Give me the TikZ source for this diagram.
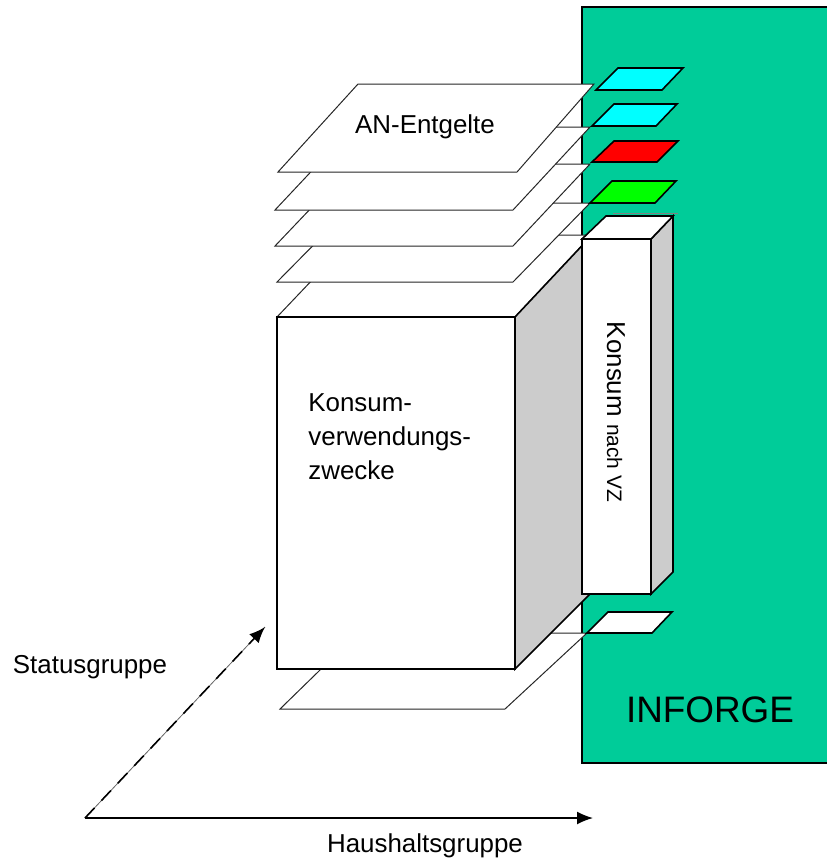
\documentclass[tikz,border=0pt]{standalone}
\usepackage{fontspec}
\setmainfont{Liberation Sans}
\usetikzlibrary{arrows.meta}
\definecolor{inforge}{RGB}{0,204,153}
\definecolor{sidegray}{RGB}{204,204,204}
\definecolor{tagcyan}{RGB}{0,255,255}
\definecolor{tagred}{RGB}{255,0,0}
\definecolor{taggreen}{RGB}{0,255,0}
\tikzset{
  plane/.style={draw=black!85,line width=0.5pt,fill=white},
  solidbox/.style={draw=black,line width=0.8pt},
  tag/.style={draw=black,line width=0.8pt},
  axis/.style={line width=0.8pt,-{Latex[length=8pt,width=6.5pt]}},
  lbl/.style={inner sep=0pt,font=\fontsize{13}{17.25}\selectfont}
}
\begin{document}
\begin{tikzpicture}[x=0.5bp,y=-0.5bp]
  \useasboundingbox (0,0) rectangle (827,864);
  % INFORGE block
  \fill [inforge] (582,7) rectangle (840,763);
  \draw [line width=1pt] (840,7) -- (582,7) -- (582,763) -- (840,763);
  \node [lbl,font=\fontsize{18.5}{22}\selectfont,anchor=base] (inforge) at (710,722) {INFORGE};
  % bottom plane
  \draw [plane] (280,709) -- (505,709) -- (587,633) -- (358,633) -- cycle;
  % cube
  \draw [plane] (277,317) -- (515,317) -- (592,235) -- (355,235) -- cycle;
  \draw [solidbox,fill=sidegray] (515,317) -- (592,235) -- (592,592) -- (515,669) -- cycle;
  \draw [solidbox,fill=white] (277,317) rectangle (515,669);
  \node [lbl,align=left,anchor=north west] (zwecke) at (308,393) {Konsum-\\verwendungs-\\zwecke};
  % stacked planes
  \draw [plane] (277,282) -- (513,282) -- (590,203) -- (355,203) -- cycle;
  \draw [plane] (275,246) -- (513,246) -- (590,164) -- (353,164) -- cycle;
  \draw [plane] (275,210) -- (513,210) -- (590,127) -- (353,127) -- cycle;
  \draw [plane] (278,172) -- (517,172) -- (594,84) -- (358,84) -- cycle;
  \node [lbl,anchor=base] (entgelte) at (425,133) {AN-Entgelte};
  % tags on the INFORGE block
  \draw [tag,fill=tagcyan] (596,90) -- (662,90) -- (683,68) -- (618,68) -- cycle;
  \draw [tag,fill=tagcyan] (592,126) -- (656,126) -- (677,104) -- (614,104) -- cycle;
  \draw [tag,fill=tagred] (592,162) -- (657,162) -- (678,141) -- (614,141) -- cycle;
  \draw [tag,fill=taggreen] (590,203) -- (655,203) -- (676,181) -- (612,181) -- cycle;
  \draw [tag,fill=white] (587,633) -- (652,633) -- (672,612) -- (608,612) -- cycle;
  % Konsum nach VZ bar
  \draw [black!50,line width=0.5pt] (613,213) -- (678,213);
  \draw [solidbox,fill=sidegray] (651,239) -- (673,216) -- (673,572) -- (651,594) -- cycle;
  \draw [solidbox,fill=white] (582,239) -- (606,216) -- (673,216) -- (651,239) -- cycle;
  \draw [solidbox,fill=white] (582,239) rectangle (651,594);
  \node [inner sep=0pt,rotate=-90] (konsum) at (616,412)
    {\fontsize{13}{15}\selectfont Konsum \fontsize{10.5}{12}\selectfont nach VZ};
  % axes
  \coordinate (origin) at (85,818);
  \coordinate (haushalt) at (593,818);
  \coordinate (status) at (265,627);
  \draw [axis] (origin) -- (haushalt);
  \draw [black!60,line width=0.4pt] (origin) -- (status);
  \draw [axis,dash pattern=on 7pt off 5pt] (origin) -- (status);
  \node [lbl,anchor=base] (statuslbl) at (90,673) {Statusgruppe};
  \node [lbl,anchor=base] (haushaltlbl) at (425,852) {Haushaltsgruppe};
\end{tikzpicture}
\end{document}
